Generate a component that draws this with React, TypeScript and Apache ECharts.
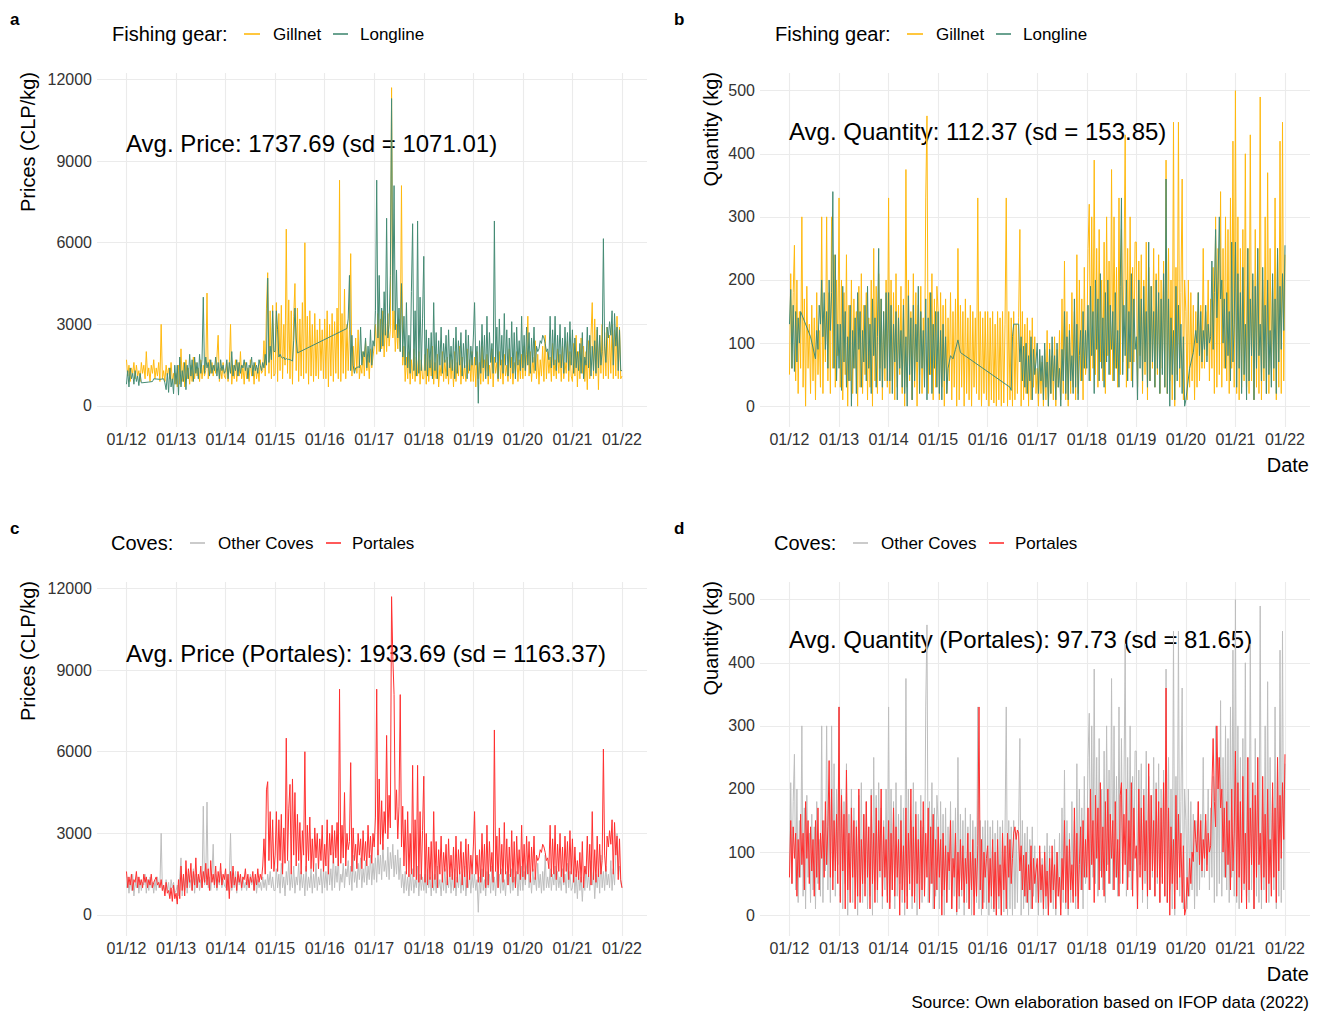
import React, { useEffect, useRef } from "react";
import * as echarts from "echarts";

// ---------- axis ticks ----------
const YEAR_TICKS = [2012, 2013, 2014, 2015, 2016, 2017, 2018, 2019, 2020, 2021, 2022];
const PRICE_TICKS = [0, 3000, 6000, 9000, 12000];
const QTY_TICKS = [0, 100, 200, 300, 400, 500];

// samples: one value every 1/40 year from 01/2012 to 01/2022 (null = no landing, line joins across)
const START_YEAR = 2012;
const SAMPLES_PER_YEAR = 40;

// ---------- panel a: prices by fishing gear ----------
const gillnetPrice: (number | null)[] = [
  // 2012
  1700, 1100, 1500, 900, 1400, 1200, 1600, 1000, 1500, 1100, 1300, 900, 1600, 1200, 1500, 1000, 2000, 1100, 1400, 900,
  1500, 1200, 1700, 1000, 1400, 1100, 1600, 900, 3000, 1000, 1300, 900, 1500, 1100, 1400, 1000, 1600, 900, 1200, 800,
  // 2013
  1200, 700, 1500, 800, 2100, 900, 1600, 700, 1700, 1000, 1400, 800, 1500, 900, 1800, 1000, 1600, 1100, 1400, 900,
  1700, 1000, 1500, 1100, 1300, 4150, 1000, 1700, 1200, 1600, 1100, 1500, 1200, 1800, 2600, 900, 1400, 1000, 1600, 1100,
  // 2014
  1000, 1600, 900, 1500, 3000, 800, 1500, 1000, 1700, 900, 1600, 1100, 2000, 1000, 1500, 800, 1600, 1000, 1400, 900,
  1700, 1100, 1500, 800, 1600, 1000, 1400, 900, 1700, 1200, 1300, 2400, 1100, 3600, 4900, 1200, 3500, 1000, 3700, 1100,
  // 2015
  1200, 3800, 900, 3400, 1300, 3700, 1000, 3000, 1500, 6500, 1200, 3900, 1000, 3500, 800, 3300, 4500, 1300, 3600, 900,
  3200, 1100, 3800, 1000, 6000, 1200, 3300, 800, 3500, 1100, 3000, 900, 3400, 1100, 2800, 1000, 3200, 1300, 2800, 1000,
  // 2016
  3200, 1000, 3500, 700, 3000, 1100, 3400, 900, 3100, 1200, 3600, 1000, 8300, 900, 3400, 1200, 4300, 1000, 3000, 1300,
  2800, 5600, 1100, 2200, 1300, 2500, 1200, 2800, 1000, 1500, 1200, 2000, 1100, 2400, 1300, 1900, 1000, 2100, 1400, 1800,
  // 2017
  2200, 3000, 1900, 3400, 2000, 3200, 2100, 3500, 1800, 3300, 2000, 3400, 2200, 2800, 11700, 2500, 3500, 2000, 3000, 2100,
  3200, 2000, 8100, 1500, 2200, 900, 1800, 1000, 2000, 800, 1700, 1000, 2100, 900, 1800, 1100, 2000, 800, 1700, 1000,
  // 2018
  1000, 1900, 800, 2100, 900, 1700, 1100, 2200, 800, 1600, 1000, 1900, 700, 1500, 1100, 2000, 900, 1700, 1000, 1800,
  800, 1900, 1000, 1700, 700, 2000, 900, 1600, 1100, 2200, 800, 1800, 1000, 1500, 900, 2100, 1200, 1700, 900, 2000,
  // 2019
  900, 1800, 700, 2000, 1000, 1600, 800, 2200, 900, 1700, 1100, 1900, 800, 1500, 1000, 2100, 700, 1800, 1200, 1600,
  900, 2000, 1000, 1700, 800, 1900, 1100, 1500, 900, 2100, 1000, 1800, 800, 1600, 1200, 2000, 900, 1700, 1000, 1900,
  // 2020
  1000, 2200, 1100, 1900, 3300, 1100, 2000, 900, 1800, 1200, 2400, 1000, 1900, 800, 1700, 1100, 2200, 900, 2600, 1000,
  2000, 1200, 1800, 900, 2300, 1100, 1700, 1000, 2100, 1200, 1900, 900, 2200, 1000, 1600, 1200, 2400, 900, 2000, 1100,
  // 2021
  900, 2300, 1100, 2600, 700, 2000, 1000, 2500, 1200, 2200, 900, 2000, 600, 2400, 1000, 2600, 3800, 1000, 3200, 1100,
  2800, 600, 2600, 1200, 3000, 1000, 2700, 1100, 2900, 1000, 2600, 1200, 3000, 1000, 2800, 1100, 3300, 1000, 2900, 1000,
  1100,
];

const longlinePrice: (number | null)[] = [
  // 2012
  800, 1300, 700, 1400, 1000, 1200, 800, 1300, 900, 1100, 750, 1200, 850, null, null, null, null, null, 880, null,
  null, 900, 1000, null, null, null, null, 980, null, null, 1000, 850, 600, 1200, 500, 1400, 700, 1000, 450, 1500,
  // 2013
  800, 1500, 400, 1800, 700, 1300, 900, 1600, 600, 1500, 1000, 1900, 1100, 1700, 900, 1800, 1200, 1600, 1000, 1900,
  1200, 1700, 4000, 1200, 1800, 1400, 1600, 1100, 1700, 1200, 1500, 1300, 1800, 1100, 1600, 1000, 1700, 1300, 1500, 1200,
  // 2014
  1300, 1700, 1000, 1600, 1200, 2000, 1100, 1500, 1300, 1700, 1100, 1600, 1200, 1500, 1400, 1700, 1300, 1600, 1000, 1500,
  1400, 1800, 1100, 1600, 1300, 1500, 1200, 1700, 1500, 1300, 1600, 1400, 1900, 1500, 4700, 1600, 2200, 1700, 3500, 2000,
  // 2015
  2000, 3500, 2800, 1800, 1900, 1800, 1750, 1800, 1700, 1750, 1700, 1720, 1700, 1680, 1650, 2400, 3600, 2500, 1950, null,
  null, null, null, null, null, null, null, null, null, null, null, null, null, null, null, null, null, null, null, null,
  // 2016
  null, null, null, null, null, null, null, null, null, null, null, null, null, null, null, null, null, null, 2850, 3200,
  4800, 1300, 2600, 1500, 1200, 1400, 1400, 1450, 1400, 2900, 1500, 2000, 1800, 2500, 1400, 2200, 1600, 2800, 1500, 2400,
  // 2017
  2200, 3500, 8300, 2500, 4800, 2000, 3600, 2200, 4200, 2600, 6900, 2500, 3000, 4800, 11300, 3500, 8100, 2800, 5000, 2500,
  3600, 2000, 4500, 1800, 3300, 1500, 3800, 1400, 2600, 1200, 4200, 6700, 1300, 3500, 1100, 6800, 1200, 4000, 1300, 3200,
  // 2018
  5500, 1300, 2800, 1100, 2500, 1400, 2700, 1000, 3800, 1300, 2700, 1000, 2400, 1500, 2900, 1200, 2300, 1600, 2600, 1100,
  2800, 1400, 2200, 1300, 2500, 1000, 2900, 1200, 2400, 1500, 2700, 1100, 2300, 1400, 2800, 1000, 2600, 1300, 2200, 1500,
  // 2019
  2500, 3800, 1500, 2200, 100, 2400, 1200, 3000, 1400, 2600, 1000, 3300, 1100, 2700, 1600, 2300, 1200, 6800, 1600, 2900,
  1000, 3200, 1500, 2600, 1200, 3400, 1500, 2800, 1100, 2500, 1400, 3100, 1200, 2700, 1000, 2900, 1500, 2400, 1300, 3300,
  // 2020
  1400, 2600, 1300, 2900, 1500, 2700, 1200, 2500, 1600, 2900, 1300, 2200, 2000, 2100, 2400, 2300, 2600, 2500, 2300, 2000,
  2100, 1700, 3300, 1400, 2800, 1500, 3300, 1300, 2600, 1600, 3000, 1400, 2500, 1200, 2900, 1600, 2700, 1300, 3100, 1500,
  // 2021
  2800, 1200, 2500, 1400, 2000, 1300, 2300, 1200, 2700, 1000, 1800, 1500, 2900, 1400, 2600, 1100, 2200, 1300, 2400, 1200,
  2900, 1400, 2600, 1500, 2000, 6150, 2200, 1600, 2900, 2500, 3100, 2600, 3500, 1500, 3400, 2200, 2900, 1300, 2800, 1300,
  1300,
];

// ---------- panel b: quantities by fishing gear ----------
const gillnetQty: (number | null)[] = [
  // 2012
  50, 210, 60, 180, 255, 40, 200, 20, 150, 60, 300, 30, 170, 0, 190, 60, 130, 20, 160, 40,
  140, 10, 180, 50, 120, 30, 300, 20, 150, 70, 300, 40, 180, 20, 300, 60, 240, 30, 200, 80,
  // 2013
  330, 30, 200, 10, 180, 50, 240, 0, 160, 40, 200, 20, 170, 60, 150, 0, 190, 30, 210, 20,
  160, 50, 180, 10, 140, 30, 200, 0, 250, 40, 190, 20, 210, 60, 170, 10, 150, 40, 200, 30,
  // 2014
  330, 20, 200, 40, 180, 10, 210, 30, 160, 50, 190, 20, 170, 0, 375, 30, 200, 40, 150, 10,
  210, 30, 180, 0, 160, 50, 190, 20, 140, 40, 330, 460, 20, 180, 50, 210, 10, 170, 30, 190,
  // 2015
  150, 10, 180, 30, 160, 0, 170, 20, 140, 40, 180, 10, 150, 30, 170, 0, 250, 10, 160, 30,
  150, 0, 170, 20, 140, 10, 160, 0, 150, 30, 140, 20, 330, 10, 150, 0, 140, 20, 150, 10,
  // 2016
  150, 0, 140, 10, 150, 5, 130, 0, 150, 10, 140, 0, 150, 5, 130, 330, 0, 150, 10, 140,
  0, 150, 10, 130, 20, 140, 280, 0, 150, 10, 130, 20, 140, 0, 120, 10, 140, 30, 110, 20,
  // 2017
  60, 0, 80, 20, 70, 0, 90, 10, 120, 0, 100, 20, 80, 10, 110, 0, 90, 30, 120, 10,
  170, 20, 230, 10, 150, 0, 130, 20, 180, 30, 150, 10, 240, 20, 200, 40, 170, 10, 220, 50,
  // 2018
  80, 250, 320, 40, 300, 60, 390, 50, 250, 30, 280, 70, 200, 40, 260, 20, 300, 80, 230, 50,
  375, 40, 300, 60, 220, 30, 330, 50, 280, 70, 200, 430, 30, 250, 60, 300, 40, 220, 70, 260,
  // 2019
  260, 30, 230, 80, 240, 20, 200, 50, 260, 10, 220, 40, 190, 60, 250, 30, 210, 50, 240, 20,
  200, 60, 230, 30, 390, 20, 250, 40, 200, 10, 450, 0, 220, 50, 450, 30, 180, 360, 10, 200,
  // 2020
  150, 10, 200, 30, 180, 40, 160, 10, 150, 30, 180, 40, 160, 60, 250, 60, 150, 80, 200, 40,
  170, 60, 220, 20, 300, 30, 250, 50, 340, 30, 250, 60, 300, 40, 280, 20, 330, 60, 420, 30,
  // 2021
  500, 20, 300, 10, 250, 30, 280, 40, 400, 30, 250, 20, 430, 40, 200, 10, 280, 30, 250, 20,
  490, 10, 200, 40, 300, 20, 370, 20, 250, 60, 200, 40, 330, 10, 250, 30, 420, 20, 450, 40,
  240,
];

const longlineQty: (number | null)[] = [
  // 2012
  130, 185, 60, 160, 55, 150, 70, 140, 100, 150, null, null, null, null, null, null, null, 110, null, null,
  null, 75, 120, 90, 160, 130, 200, 110, 180, 90, 150, 60, 200, 120, 180, 340, 60, 240, 40, 130,
  // 2013
  60, 130, 25, 190, 70, 150, 30, 110, 40, 160, 0, 120, 60, 140, 20, 180, 90, 150, 30, 120,
  70, 160, 40, 190, 60, 130, 20, 170, 80, 140, 30, 110, 250, 40, 170, 30, 150, 60, 180, 40,
  // 2014
  180, 40, 160, 20, 130, 70, 150, 10, 140, 60, 120, 30, 160, 20, 110, 0, 175, 50, 140, 10,
  160, 40, 130, 70, 190, 20, 150, 60, 120, 30, 170, 10, 140, 50, 180, 20, 130, 60, 150, 30,
  // 2015
  150, 20, 120, 10, 130, 40, 110, 20, 60, null, 80, null, 75, null, 90, null, 105, null, 85, null,
  null, null, null, null, null, null, null, null, null, null, null, null, null, null, null, null, null, null, null, null,
  // 2016
  null, null, null, null, null, null, null, null, null, null, null, null, null, null, null, null, null, null, 30, 25,
  110, 130, null, null, null, 130, 70, 110, 40, 95, 30, 100, 20, 80, 40, 110, 10, 90, 50, 70,
  // 2017
  100, 20, 90, 40, 80, 10, 100, 30, 70, 0, 90, 20, 110, 40, 80, 10, 100, 30, 60, 0,
  90, 40, 150, 20, 110, 10, 120, 40, 80, 20, 170, 30, 130, 10, 80, 120, 40, 150, 60, 120,
  // 2018
  60, 160, 40, 190, 80, 150, 20, 200, 90, 170, 40, 210, 60, 140, 30, 180, 70, 200, 50, 160,
  90, 150, 40, 180, 60, 120, 30, 190, 330, 50, 160, 80, 200, 40, 150, 70, 210, 30, 170, 90,
  // 2019
  110, 10, 200, 60, 170, 40, 190, 70, 150, 30, 260, 40, 190, 70, 150, 30, 200, 60, 180, 20,
  170, 50, 210, 30, 360, 20, 170, 0, 140, 50, 120, 10, 190, 40, 160, 60, 130, 20, 110, 0,
  // 2020
  10, null, null, 60, null, null, 85, null, 120, 100, 180, 80, 150, 70, 120, 90, 160, 70, 130, 100,
  110, 230, 90, 180, 280, 140, 200, 300, 170, 200, 100, 170, 60, 180, 80, 150, 40, 260, 70, 130,
  // 2021
  260, 30, 210, 60, 180, 20, 220, 50, 130, 10, 250, 40, 170, 80, 210, 10, 190, 60, 250, 80,
  130, 40, 220, 60, 160, 20, 200, 50, 120, 30, 210, 60, 170, 20, 250, 70, 190, 90, 210, 120,
  255,
];

// ---------- panel c: prices by cove ----------
const otherCovesPrice: (number | null)[] = [
  // 2012
  1000, 1400, 800, 1300, 900, 1500, 700, 1200, 1000, 1400, 800, 1300, 900, 1200, 1100, 1500, 800, 1300, 900, 1400,
  1000, 1200, 800, 1300, 900, 1400, 1000, 1100, 3000, 900, 1100, 800, 1300, 900, 1200, 700, 1300, 1000, 1200, 800,
  // 2013
  900, 1100, 700, 1400, 2100, 700, 1400, 900, 1600, 800, 1500, 1000, 1300, 900, 1700, 800, 1500, 1000, 1400, 900,
  1300, 1000, 4000, 1100, 1300, 4150, 1000, 1400, 900, 1500, 2600, 1000, 1500, 900, 1300, 1100, 1600, 1000, 1300, 1100,
  // 2014
  1000, 1500, 900, 1400, 3000, 900, 1400, 1000, 1600, 800, 1500, 1100, 1300, 900, 1400, 1000, 1200, 900, 1300, 1000,
  1500, 1100, 1300, 900, 1400, 800, 1300, 1000, 1200, 900, 1400, 1000, 1300, 900, 1500, 1100, 1600, 1000, 1400, 900,
  // 2015
  900, 1700, 1000, 1500, 800, 1900, 1000, 1400, 700, 1600, 1100, 2000, 900, 1500, 1000, 1800, 800, 1400, 1100, 1900,
  900, 1600, 1000, 1500, 700, 1800, 900, 1400, 1000, 1700, 800, 1500, 1000, 1900, 900, 1400, 1100, 1700, 800, 1600,
  // 2016
  1000, 1600, 900, 2000, 1100, 1700, 900, 2300, 1000, 1800, 1200, 2100, 900, 1500, 1200, 1900, 1000, 1700, 1400, 2000,
  1100, 1800, 900, 2200, 1200, 1600, 1000, 1900, 1300, 2100, 1000, 1700, 1200, 2000, 1100, 1800, 1300, 2200, 1100, 1900,
  // 2017
  1300, 2100, 1200, 2400, 1500, 2200, 1300, 2600, 1600, 2000, 1400, 2500, 1300, 2300, 1700, 2600, 1400, 2200, 1500, 2400,
  1300, 2100, 1000, 1500, 800, 1600, 900, 1400, 700, 1500, 900, 1700, 800, 1300, 1000, 1800, 700, 1500, 900, 1400,
  // 2018
  900, 1500, 800, 1700, 1000, 1400, 700, 1600, 900, 1500, 800, 1800, 1000, 1300, 700, 1500, 900, 1700, 800, 1400,
  1000, 1600, 800, 1500, 900, 1700, 700, 1400, 1000, 1600, 800, 1500, 900, 1800, 700, 1300, 1000, 1600, 800, 1500,
  // 2019
  1000, 1500, 900, 1300, 100, 1400, 800, 1700, 900, 1300, 700, 1600, 1000, 1500, 800, 1800, 900, 1400, 700, 1600,
  1000, 1500, 800, 1700, 900, 1300, 700, 1600, 1100, 1500, 800, 1700, 900, 1400, 1000, 1600, 700, 1500, 900, 1800,
  // 2020
  900, 1600, 1100, 1800, 2000, 1000, 1500, 800, 1700, 1100, 1400, 900, 1900, 1000, 1500, 800, 1600, 900, 2200, 1000,
  1400, 1000, 1700, 900, 1500, 1100, 1800, 900, 1600, 1000, 1400, 900, 1700, 1100, 1500, 800, 1900, 1000, 1600, 900,
  // 2021
  1000, 1700, 800, 1500, 600, 1600, 900, 1400, 500, 1400, 900, 1800, 1000, 1500, 900, 2000, 1100, 1600, 600, 1500,
  1000, 1700, 800, 2200, 1000, 1600, 900, 1800, 1100, 1500, 1000, 2000, 900, 1700, 1100, 2200, 3000, 1500, 1800, 1200,
  1000,
];

const portalesPrice: (number | null)[] = [
  // 2012
  1600, 1000, 1400, 1100, 1500, 900, 1300, 1200, 1600, 1000, 1400, 1100, 1300, 1000, 1500, 1200, 1400, 1000, 1300, 1100,
  1500, 1000, 1200, 1300, 1400, 1100, 1200, 1000, 1300, 900, 1100, 700, 1200, 800, 900, 600, 1000, 500, 1100, 600,
  // 2013
  800, 400, 1300, 600, 1800, 900, 1500, 700, 2000, 1000, 1700, 1200, 1900, 900, 1600, 1100, 2100, 1000, 1500, 1200,
  1800, 1000, 1600, 1200, 1900, 1100, 1700, 900, 2000, 1200, 1500, 1100, 1800, 1000, 1600, 1200, 1900, 1100, 1500, 1300,
  // 2014
  1700, 900, 1500, 600, 1600, 1000, 1800, 1100, 1400, 900, 1600, 1200, 1500, 1000, 1400, 1300, 1700, 1100, 1500, 1000,
  1400, 1200, 1600, 900, 1500, 1100, 1700, 1200, 1500, 1300, 1800, 2800, 1500, 4600, 4900, 2000, 3800, 1700, 3500, 1600,
  // 2015
  2200, 3800, 1600, 3500, 2000, 3700, 1500, 3200, 1900, 6500, 2000, 3900, 4800, 1500, 5000, 2200, 4500, 1800, 3700, 2000,
  3400, 1500, 3100, 2200, 6000, 1600, 3300, 2000, 3600, 1700, 2800, 1600, 3200, 2100, 3000, 1700, 2800, 2000, 3300, 1600,
  // 2016
  2600, 1800, 3500, 1500, 3000, 2200, 3300, 1900, 3100, 2100, 3400, 1800, 8300, 1900, 3300, 2100, 4500, 1800, 3000, 2400,
  2700, 5600, 1600, 3200, 2000, 2600, 1700, 3000, 2200, 2800, 1700, 3100, 2000, 2700, 1800, 3300, 2100, 2900, 1900, 3000,
  // 2017
  2500, 3600, 8300, 2200, 5000, 2600, 4200, 2400, 3800, 3000, 6600, 2800, 4400, 3200, 11700, 9500, 8100, 3500, 4600, 2800,
  4000, 8100, 2500, 4000, 1800, 3500, 1500, 3800, 1400, 3000, 1500, 5500, 1400, 3500, 1300, 5500, 1200, 3800, 1300, 3100,
  // 2018
  5100, 1200, 3000, 1100, 2500, 1300, 2700, 1000, 3800, 1300, 2700, 1000, 2400, 1500, 2900, 1200, 2300, 1600, 2600, 1100,
  2800, 1400, 2200, 1300, 2500, 1000, 2900, 1200, 2400, 1500, 2700, 1100, 2300, 1400, 2800, 1000, 2600, 1300, 2200, 1500,
  // 2019
  2500, 3800, 1500, 2200, 1200, 2400, 1200, 3000, 1400, 2600, 1000, 3300, 1100, 2700, 1600, 2300, 1200, 6800, 1600, 2900,
  1000, 3200, 1500, 2600, 1200, 3400, 1500, 2800, 1100, 2500, 1400, 3100, 1200, 2700, 1000, 2900, 1500, 2400, 1300, 3300,
  // 2020
  1400, 2600, 1300, 2900, 1500, 2700, 1200, 2500, 1600, 2900, 1300, 2200, 2000, 2100, 2400, 2300, 2600, 2500, 2300, 2000,
  2100, 1700, 3300, 1400, 2800, 1500, 3300, 1300, 2600, 1600, 3000, 1400, 2500, 1200, 2900, 1600, 2700, 1300, 3100, 1500,
  // 2021
  2800, 1200, 2500, 1400, 2000, 1300, 2300, 1200, 2700, 1000, 1800, 1500, 2900, 1400, 2600, 1100, 3800, 1300, 2400, 1200,
  2900, 1400, 2600, 1500, 2000, 6100, 2200, 1600, 2900, 2500, 3100, 2600, 3500, 1500, 3400, 2200, 2900, 1300, 2800, 1300,
  1000,
];

// ---------- panel d: quantities by cove ----------
const otherCovesQty: (number | null)[] = [
  // 2012
  60, 210, 50, 180, 255, 40, 200, 20, 150, 60, 300, 30, 170, 10, 190, 60, 130, 20, 160, 40,
  140, 10, 180, 50, 120, 30, 300, 20, 150, 70, 300, 40, 180, 20, 300, 60, 240, 30, 200, 80,
  // 2013
  330, 30, 200, 10, 180, 50, 240, 0, 160, 40, 200, 20, 170, 60, 150, 0, 190, 30, 210, 20,
  160, 50, 180, 10, 140, 30, 200, 0, 250, 40, 190, 20, 210, 60, 170, 10, 150, 40, 200, 30,
  // 2014
  330, 20, 200, 40, 180, 10, 210, 30, 160, 50, 190, 20, 170, 0, 375, 30, 200, 40, 150, 10,
  210, 30, 180, 0, 160, 50, 190, 20, 140, 40, 330, 460, 20, 180, 50, 210, 10, 170, 30, 190,
  // 2015
  150, 10, 180, 30, 160, 0, 170, 20, 140, 40, 180, 10, 150, 30, 170, 0, 250, 10, 160, 30,
  150, 0, 170, 20, 140, 10, 160, 0, 150, 30, 140, 20, 330, 10, 150, 0, 140, 20, 150, 10,
  // 2016
  150, 0, 140, 10, 150, 5, 130, 0, 150, 10, 140, 0, 150, 5, 130, 330, 0, 150, 10, 140,
  0, 150, 10, 130, 20, 140, 280, 0, 150, 10, 130, 20, 140, 0, 120, 10, 140, 30, 110, 20,
  // 2017
  80, 0, 100, 20, 90, 0, 110, 10, 130, 0, 110, 20, 90, 10, 120, 0, 100, 30, 130, 10,
  170, 20, 230, 10, 150, 0, 130, 20, 180, 30, 150, 10, 240, 20, 200, 40, 170, 10, 220, 50,
  // 2018
  80, 250, 320, 40, 300, 60, 390, 50, 250, 30, 280, 70, 200, 40, 260, 20, 300, 80, 230, 50,
  375, 40, 300, 60, 220, 30, 330, 50, 280, 70, 200, 430, 30, 250, 60, 300, 40, 220, 70, 260,
  // 2019
  260, 30, 230, 80, 240, 20, 200, 50, 260, 10, 220, 40, 190, 60, 250, 30, 210, 50, 240, 20,
  200, 60, 230, 30, 390, 20, 250, 40, 200, 10, 450, 0, 220, 50, 450, 30, 180, 360, 10, 200,
  // 2020
  150, 10, 200, 30, 180, 40, 160, 10, 150, 30, 180, 40, 160, 60, 250, 60, 150, 80, 200, 40,
  170, 60, 220, 20, 300, 30, 250, 50, 340, 30, 250, 60, 300, 40, 280, 20, 330, 60, 420, 30,
  // 2021
  500, 20, 300, 10, 250, 30, 280, 40, 400, 30, 250, 20, 430, 40, 200, 10, 280, 30, 250, 20,
  490, 10, 200, 40, 300, 20, 370, 20, 250, 60, 200, 40, 330, 10, 250, 30, 420, 20, 450, 40,
  240,
];

const portalesQty: (number | null)[] = [
  // 2012
  60, 150, 50, 140, 90, 130, 30, 120, 60, 160, 80, 130, 40, 180, 90, 150, 50, 140, 70, 120,
  30, 150, 60, 170, 40, 130, 90, 150, 60, 180, 80, 140, 245, 60, 200, 40, 150, 70, 160, 50,
  // 2013
  330, 20, 190, 70, 160, 10, 230, 40, 130, 20, 170, 60, 150, 10, 140, 30, 200, 20, 120, 50,
  160, 30, 180, 60, 140, 10, 190, 50, 130, 20, 170, 40, 150, 70, 200, 30, 140, 60, 120, 20,
  // 2014
  150, 10, 130, 40, 170, 30, 140, 60, 120, 0, 150, 40, 110, 20, 170, 10, 130, 50, 200, 30,
  140, 20, 160, 50, 120, 10, 150, 40, 180, 30, 130, 60, 170, 20, 140, 50, 160, 10, 120, 40,
  // 2015
  140, 60, 120, 0, 130, 40, 110, 20, 100, 70, 150, 10, 90, 60, 130, 5, 100, 30, 120, 40,
  110, 20, 90, 50, 130, 10, 100, 40, 120, 0, 90, 30, 110, 330, 40, 120, 10, 100, 60, 90,
  // 2016
  110, 20, 90, 30, 120, 10, 100, 0, 120, 30, 80, 0, 130, 40, 110, 10, 130, 60, 120, 50,
  90, 130, 140, 120, 135, 130, 70, 110, 40, 95, 30, 100, 20, 80, 40, 110, 10, 90, 50, 70,
  // 2017
  90, 20, 110, 40, 80, 10, 100, 30, 70, 0, 90, 20, 110, 40, 80, 10, 100, 30, 60, 0,
  90, 40, 150, 20, 110, 10, 120, 40, 80, 20, 170, 30, 130, 10, 80, 140, 40, 150, 60, 120,
  // 2018
  60, 170, 40, 200, 80, 150, 20, 190, 90, 170, 40, 210, 60, 140, 30, 180, 70, 200, 50, 160,
  90, 150, 40, 180, 60, 120, 30, 190, 210, 50, 160, 80, 200, 40, 150, 70, 210, 30, 170, 90,
  // 2019
  110, 10, 200, 60, 170, 40, 190, 70, 150, 30, 240, 40, 190, 70, 150, 30, 200, 60, 180, 20,
  170, 50, 210, 30, 360, 20, 170, 0, 140, 50, 120, 10, 190, 40, 160, 60, 130, 20, 110, 0,
  // 2020
  10, 60, 30, 90, 50, 100, 85, 150, 120, 100, 180, 80, 150, 70, 120, 90, 160, 70, 130, 100,
  110, 200, 280, 180, 140, 300, 200, 250, 170, 200, 100, 170, 60, 180, 80, 150, 40, 200, 70, 130,
  // 2021
  260, 30, 210, 60, 180, 20, 220, 50, 130, 10, 250, 40, 170, 80, 210, 10, 190, 60, 250, 80,
  130, 40, 220, 60, 160, 20, 200, 50, 120, 30, 210, 60, 170, 20, 250, 70, 190, 90, 210, 120,
  255,
];

// ---------- texts ----------
const GEAR_LEGEND = ["Gillnet", "Longline"];
const COVE_LEGEND = ["Other Coves", "Portales"];
const ANNOTATIONS = [
  "Avg. Price: 1737.69 (sd = 1071.01)",
  "Avg. Quantity: 112.37 (sd = 153.85)",
  "Avg. Price (Portales): 1933.69 (sd = 1163.37)",
  "Avg. Quantity (Portales): 97.73 (sd = 81.65)",
];
const CAPTION = "Source: Own elaboration based on IFOP data (2022)";

// ---------- styles ----------
const FONT = '"Liberation Sans", Arial, Helvetica, sans-serif';
const C_GILLNET = "#FFB90F";
const C_LONGLINE = "#458B74";
const C_OTHER = "#BEBEBE";
const C_PORTALES = "#FF3030";
const GRID_COLOR = "#EBEBEB";

const GRIDS = [
  { left: 97, top: 73, width: 550, height: 354 },
  { left: 760, top: 73, width: 550, height: 354 },
  { left: 97, top: 582, width: 550, height: 354 },
  { left: 760, top: 582, width: 550, height: 354 },
];

function toPoints(vals: (number | null)[]) {
  return vals.map((v, i) => [START_YEAR + i / SAMPLES_PER_YEAR, v === null ? "-" : v]);
}

function txt(x: number, y: number, text: string, size: number, extra: any = {}) {
  const align = extra.align || "left";
  const valign = extra.valign || "middle";
  return {
    type: "text",
    x,
    y,
    z: extra.z !== undefined ? extra.z : 10,
    rotation: extra.rotation || 0,
    silent: true,
    style: {
      text,
      fill: extra.fill || "#000000",
      fontSize: size,
      fontFamily: FONT,
      fontWeight: extra.bold ? "bold" : "normal",
      align,
      verticalAlign: valign,
      textAlign: align,
      textVerticalAlign: valign,
    },
  };
}

function keyLine(x1: number, x2: number, y: number, color: string) {
  return {
    type: "line",
    silent: true,
    shape: { x1, y1: y, x2, y2: y },
    style: { stroke: color, lineWidth: 1.6 },
  };
}

export default function App() {
  const ref = useRef<HTMLDivElement>(null);

  useEffect(() => {
    if (!ref.current) return;
    const chart = echarts.init(ref.current, null, { renderer: "svg" });

    const xAxisFor = (gridIndex: number) => ({
      type: "value",
      gridIndex,
      min: 2011.405,
      max: 2022.505,
      axisLine: { show: false },
      axisTick: { show: false, customValues: YEAR_TICKS },
      axisLabel: {
        customValues: YEAR_TICKS,
        formatter: (v: number) => "01/" + String(Math.round(v)).slice(2),
        fontSize: 16,
        color: "#333333",
        fontFamily: FONT,
        margin: 4,
      },
      splitLine: { show: true, lineStyle: { color: GRID_COLOR, width: 1.1 } },
    });

    const yAxisFor = (gridIndex: number, ticks: number[], min: number, max: number) => ({
      type: "value",
      gridIndex,
      min,
      max,
      axisLine: { show: false },
      axisTick: { show: false, customValues: ticks },
      axisLabel: {
        customValues: ticks,
        formatter: (v: number) => String(Math.round(v)),
        fontSize: 16,
        color: "#333333",
        fontFamily: FONT,
        margin: 5,
      },
      splitLine: { show: true, lineStyle: { color: GRID_COLOR, width: 1.1 } },
    });

    const lineSeries = (name: string, idx: number, vals: (number | null)[], color: string) => ({
      type: "line",
      name,
      xAxisIndex: idx,
      yAxisIndex: idx,
      data: toPoints(vals),
      showSymbol: false,
      symbol: "none",
      connectNulls: true,
      silent: true,
      clip: true,
      z: 3,
      lineStyle: { color, width: 1 },
      itemStyle: { color },
    });

    const graphics: any[] = [];
    // panel letters
    graphics.push(txt(10, 19, "a", 17, { bold: true }));
    graphics.push(txt(674, 19, "b", 17, { bold: true }));
    graphics.push(txt(10, 528, "c", 17, { bold: true }));
    graphics.push(txt(674, 528, "d", 17, { bold: true }));

    // legends (gear)
    [0, 663].forEach((dx) => {
      graphics.push(txt(112 + dx, 34, "Fishing gear:", 20));
      graphics.push(keyLine(244 + dx, 260 + dx, 34, C_GILLNET));
      graphics.push(txt(273 + dx, 34, GEAR_LEGEND[0], 17));
      graphics.push(keyLine(333 + dx, 348 + dx, 34, C_LONGLINE));
      graphics.push(txt(360 + dx, 34, GEAR_LEGEND[1], 17));
    });
    // legends (coves)
    [0, 663].forEach((dx) => {
      graphics.push(txt(111 + dx, 543, "Coves:", 20));
      graphics.push(keyLine(190 + dx, 205 + dx, 543, C_OTHER));
      graphics.push(txt(218 + dx, 543, COVE_LEGEND[0], 17));
      graphics.push(keyLine(326 + dx, 341 + dx, 543, C_PORTALES));
      graphics.push(txt(352 + dx, 543, COVE_LEGEND[1], 17));
    });

    // y-axis titles (top aligned)
    graphics.push(txt(28, 72, "Prices (CLP/kg)", 20, { rotation: Math.PI / 2, align: "right" }));
    graphics.push(txt(711, 72, "Quantity (kg)", 20, { rotation: Math.PI / 2, align: "right" }));
    graphics.push(txt(28, 581, "Prices (CLP/kg)", 20, { rotation: Math.PI / 2, align: "right" }));
    graphics.push(txt(711, 581, "Quantity (kg)", 20, { rotation: Math.PI / 2, align: "right" }));

    // x-axis titles
    graphics.push(txt(1309, 465, "Date", 20, { align: "right" }));
    graphics.push(txt(1309, 974, "Date", 20, { align: "right" }));

    // annotations (drawn beneath the series lines, as in the original)
    graphics.push(txt(126, 143, ANNOTATIONS[0], 24, { z: 1 }));
    graphics.push(txt(789, 131, ANNOTATIONS[1], 24, { z: 1 }));
    graphics.push(txt(126, 653, ANNOTATIONS[2], 24, { z: 1 }));
    graphics.push(txt(789, 639, ANNOTATIONS[3], 24, { z: 1 }));

    // caption
    graphics.push(txt(1309, 1002, CAPTION, 17, { align: "right" }));

    const option: any = {
      animation: false,
      backgroundColor: "#ffffff",
      textStyle: { fontFamily: FONT },
      grid: GRIDS.map((g) => ({ ...g, containLabel: false })),
      xAxis: [0, 1, 2, 3].map((i) => xAxisFor(i)),
      yAxis: [
        yAxisFor(0, PRICE_TICKS, -772, 12239),
        yAxisFor(1, QTY_TICKS, -33, 528),
        yAxisFor(2, PRICE_TICKS, -772, 12239),
        yAxisFor(3, QTY_TICKS, -33, 528),
      ],
      series: [
        lineSeries("Gillnet", 0, gillnetPrice, C_GILLNET),
        lineSeries("Longline", 0, longlinePrice, C_LONGLINE),
        lineSeries("Gillnet", 1, gillnetQty, C_GILLNET),
        lineSeries("Longline", 1, longlineQty, C_LONGLINE),
        lineSeries("Other Coves", 2, otherCovesPrice, C_OTHER),
        lineSeries("Portales", 2, portalesPrice, C_PORTALES),
        lineSeries("Other Coves", 3, otherCovesQty, C_OTHER),
        lineSeries("Portales", 3, portalesQty, C_PORTALES),
      ],
      graphic: { elements: graphics },
    };

    chart.setOption(option);
    return () => chart.dispose();
  }, []);

  return (
    <div
      ref={ref}
      style={{ position: "fixed", left: 0, top: 0, width: 1320, height: 1011, background: "#ffffff" }}
    />
  );
}
